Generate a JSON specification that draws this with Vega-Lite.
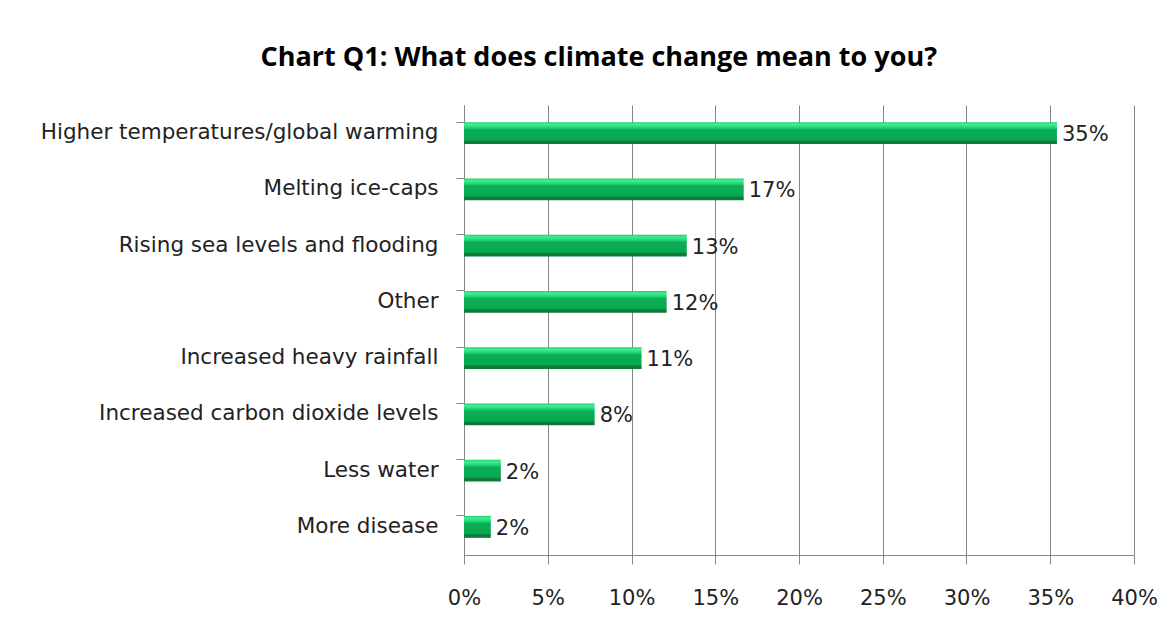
{
  "$schema": "https://vega.github.io/schema/vega-lite/v6.json",
  "autosize": {"type": "none"},
  "width": 670,
  "height": 450,
  "padding": {"left": 464, "top": 105, "right": 38, "bottom": 80},
  "background": "white",
  "title": {
    "text": "Chart Q1: What does climate change mean to you?",
    "font": "Open Sans",
    "fontSize": 27,
    "fontWeight": "bold",
    "color": "#000000",
    "anchor": "middle",
    "frame": "bounds",
    "offset": 33
  },
  "data": {
    "values": [
      {"answer": "Higher temperatures/global warming", "share": 0.354},
      {"answer": "Melting ice-caps", "share": 0.167},
      {"answer": "Rising sea levels and flooding", "share": 0.133},
      {"answer": "Other", "share": 0.121},
      {"answer": "Increased heavy rainfall", "share": 0.106},
      {"answer": "Increased carbon dioxide levels", "share": 0.078},
      {"answer": "Less water", "share": 0.022},
      {"answer": "More disease", "share": 0.016}
    ]
  },
  "encoding": {
    "y": {
      "field": "answer",
      "type": "nominal",
      "sort": null,
      "scale": {"paddingInner": 0.61, "paddingOuter": 0.305},
      "axis": {
        "title": null,
        "bandPosition": 0,
        "domainColor": "#868686",
        "tickColor": "#868686",
        "tickSize": 8,
        "labelPadding": 18,
        "labelFont": "DejaVu Sans",
        "labelFontSize": 21.5,
        "labelColor": "#222222",
        "labelLimit": 500,
        "grid": false
      }
    },
    "x": {
      "field": "share",
      "type": "quantitative",
      "scale": {"domain": [0, 0.4], "nice": false},
      "axis": {
        "title": null,
        "format": ".0%",
        "values": [0, 0.05, 0.1, 0.15, 0.2, 0.25, 0.3, 0.35, 0.4],
        "domainColor": "#868686",
        "tickColor": "#868686",
        "tickSize": 9,
        "labelPadding": 23,
        "labelFont": "DejaVu Sans",
        "labelFontSize": 21,
        "labelColor": "#222222",
        "grid": true,
        "gridColor": "#868686",
        "gridOpacity": 1,
        "labelFlush": false
      }
    }
  },
  "layer": [
    {
      "mark": {
        "type": "bar",
        "color": {
          "gradient": "linear",
          "x1": 0, "y1": 0, "x2": 0, "y2": 1,
          "stops": [
            {"offset": 0, "color": "#20c86c"},
            {"offset": 0.1, "color": "#3ef08e"},
            {"offset": 0.25, "color": "#22d476"},
            {"offset": 0.35, "color": "#0aae56"},
            {"offset": 0.8, "color": "#0aa850"},
            {"offset": 0.86, "color": "#0c7d3e"},
            {"offset": 1, "color": "#0c7a3c"}
          ]
        }
      }
    },
    {
      "mark": {
        "type": "text",
        "align": "left",
        "baseline": "middle",
        "dx": 5,
        "dy": 2,
        "font": "DejaVu Sans",
        "fontSize": 21,
        "color": "#222222"
      },
      "encoding": {
        "text": {"field": "share", "type": "quantitative", "format": ".0%"}
      }
    }
  ],
  "config": {
    "view": {"stroke": null}
  }
}
